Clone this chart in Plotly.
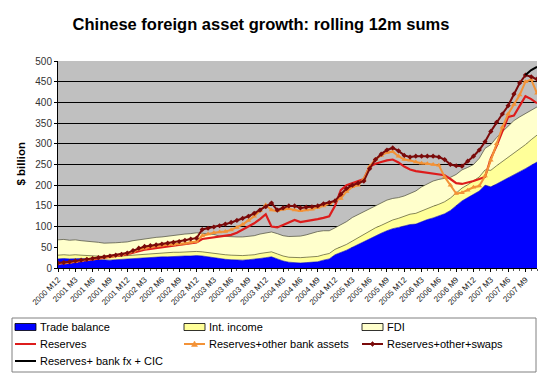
import plotly.graph_objects as go

# Monthly index 0 = 2000 M12 ... 83 = 2007 M11
tick_labels = ["2000 M12",
               "2001 M3", "2001 M6", "2001 M9", "2001 M12",
               "2002 M3", "2002 M6", "2002 M9", "2002 M12",
               "2003 M3", "2003 M6", "2003 M9", "2003 M12",
               "2004 M3", "2004 M6", "2004 M9", "2004 M12",
               "2005 M3", "2005 M6", "2005 M9", "2005 M12",
               "2006 M3", "2006 M6", "2006 M9", "2006 M12",
               "2007 M3", "2007 M6", "2007 M9"]

trade_balance = [22,
    23, 22, 23, 23, 22, 21, 20, 19, 19, 20, 21, 22,
    23, 24, 25, 25, 26, 27, 27, 28, 28, 29, 29, 30,
    29, 27, 25, 22, 21, 20, 19, 19, 20, 21, 23, 25,
    27, 22, 17, 14, 13, 12, 13, 14, 15, 19, 22, 32,
    37, 43, 50, 57, 64, 72, 78, 84, 90, 95, 98, 102,
    105, 106, 112, 117, 121, 126, 131, 139, 150, 162, 170, 178,
    186, 200, 196, 203, 210, 218, 226, 233, 240, 248, 256]

int_income = [9,
    9, 9, 9, 8, 8, 8, 8, 8, 8, 8, 8, 8,
    9, 9, 9, 9, 9, 9, 10, 10, 10, 10, 10, 10,
    10, 10, 11, 11, 11, 11, 11, 11, 11, 11, 12, 12,
    12, 12, 12, 12, 12, 13, 13, 13, 13, 13, 13, 13,
    14, 14, 15, 16, 17, 18, 19, 19, 20, 21, 22, 24,
    25, 26, 26, 27, 28, 28, 29, 30, 30, 31, 31, 32,
    34, 37, 40, 44, 47, 50, 53, 55, 58, 62, 65]

fdi = [37,
    37, 36, 36, 35, 35, 34, 34, 33, 33, 33, 33, 33,
    34, 35, 37, 38, 39, 39, 40, 41, 42, 43, 44, 45,
    45, 45, 45, 44, 44, 44, 45, 45, 45, 46, 47, 47,
    48, 49, 49, 50, 51, 52, 54, 57, 60, 58, 55, 52,
    53, 55, 57, 56, 54, 52, 52, 53, 54, 52, 50, 48,
    50, 54, 58, 60, 61, 60, 56, 50, 46, 44, 42, 40,
    45, 52, 62, 68, 72, 75, 77, 77, 75, 72, 68]

reserves = [11,
    12, 13, 15, 17, 19, 21, 23, 25, 27, 29, 31, 33,
    37, 41, 44, 46, 48, 50, 52, 54, 56, 58, 60, 62,
    70, 72, 74, 76, 78, 80, 85, 92, 100, 108, 118, 130,
    100, 98, 104, 110, 116, 111, 113, 116, 118, 121, 125, 150,
    188, 200, 205, 210, 215, 245, 252, 256, 260, 262, 255, 245,
    238, 234, 232, 230, 228, 226, 224, 215, 205, 203, 206, 210,
    215, 220, 265, 295, 330, 365, 368, 392, 415, 408, 398]

reserves_bank = [11,
    12, 14, 16, 18, 20, 22, 24, 26, 28, 30, 32, 35,
    40, 45, 48, 51, 53, 55, 56, 57, 58, 60, 62, 64,
    78, 82, 85, 87, 88, 92, 98, 105, 115, 125, 138, 152,
    140, 138, 142, 143, 140, 138, 140, 142, 146, 150, 155, 162,
    168, 185, 196, 200, 215, 245, 262, 272, 279, 281, 270, 262,
    260, 256, 253, 252, 250, 248, 220, 200, 180, 182, 188, 195,
    198, 222, 260, 300, 340, 372, 395, 418, 450, 455, 422]

reserves_swaps = [12,
    13, 15, 17, 19, 21, 23, 25, 27, 29, 31, 33, 36,
    42, 48, 52, 54, 56, 58, 60, 62, 64, 67, 70, 72,
    93, 96, 99, 102, 106, 110, 115, 120, 125, 132, 140, 148,
    157, 140, 145, 150, 150, 145, 147, 148, 150, 155, 158, 162,
    178, 192, 200, 205, 210, 240, 262, 275, 285, 290, 283, 272,
    268, 270, 270, 270, 270, 268, 262, 250, 247, 246, 258, 270,
    285, 305, 330, 352, 372, 392, 420, 447, 466, 462, 456]

reserves_cic = [None] * 81 + [466, 478, 486]

series_names = ["Trade balance", "Int. income", "FDI", "Reserves",
                "Reserves+other bank assets", "Reserves+other+swaps",
                "Reserves+ bank fx + CIC"]

x = list(range(len(trade_balance)))
tick_vals = [3 * k for k in range(len(tick_labels))]

FONT = "Liberation Sans, Arial, sans-serif"

# The page body adds an 8px offset; work in screenshot coordinates and shift.
OFF = 8
SW, SH = 547, 374                      # screenshot size
PL, PR, PT, PB = 58, 537, 61, 268      # plot edges in screenshot coords
W, H = SW - OFF, SH - OFF
ML, MT = PL - OFF, PT - OFF
MR, MB = W - (PR - OFF), H - (PB - OFF)
PW, PH = PR - PL, PB - PT


def xp(px):
    return (px - PL) / PW


def yp(py):
    return (PB - py) / PH


BLUE, YEL, CREAM = "#0000ff", "#ffff99", "#ffffcc"
RED, ORANGE, MAROON = "#dd1c1c", "#f39237", "#7a0a0a"

fig = go.Figure()
fig.add_trace(go.Scatter(x=x, y=trade_balance, name=series_names[0], stackgroup="s",
                         mode="lines", line=dict(color="#0000c8", width=0.6),
                         fillcolor=BLUE))
fig.add_trace(go.Scatter(x=x, y=int_income, name=series_names[1], stackgroup="s",
                         mode="lines", line=dict(color="#5a5a2a", width=0.7),
                         fillcolor=YEL))
fig.add_trace(go.Scatter(x=x, y=fdi, name=series_names[2], stackgroup="s",
                         mode="lines", line=dict(color="#4a4a3a", width=0.7),
                         fillcolor=CREAM))
fig.add_trace(go.Scatter(x=x, y=reserves, name=series_names[3], mode="lines",
                         line=dict(color=RED, width=2.2)))
fig.add_trace(go.Scatter(x=x, y=reserves_bank, name=series_names[4],
                         mode="lines+markers", line=dict(color=ORANGE, width=2),
                         marker=dict(symbol="triangle-up", size=5, color=ORANGE)))
fig.add_trace(go.Scatter(x=x, y=reserves_swaps, name=series_names[5],
                         mode="lines+markers", line=dict(color=MAROON, width=2),
                         marker=dict(symbol="diamond", size=4, color=MAROON)))
fig.add_trace(go.Scatter(x=x, y=reserves_cic, name=series_names[6],
                         mode="lines", line=dict(color="#000000", width=2)))

# ---- custom legend (box, swatches, labels) ----
shapes = [dict(type="rect", xref="paper", yref="paper",
               x0=xp(12), x1=xp(536), y0=yp(372), y1=yp(318),
               line=dict(color="#808080", width=1), fillcolor="white", layer="above")]
annotations = []
cols = [15, 184, 362]
rows = [327, 344, 361]
swatch = [("rect", BLUE), ("rect", YEL), ("rect", CREAM), ("line", RED),
          ("tri", ORANGE), ("dia", MAROON), ("line", "#000000")]
for k, name in enumerate(series_names):
    cx = cols[k % 3]
    cy = rows[k // 3]
    kind, col = swatch[k]
    if kind == "rect":
        shapes.append(dict(type="rect", xref="paper", yref="paper",
                           x0=xp(cx), x1=xp(cx + 21), y0=yp(cy + 3.5), y1=yp(cy - 3.5),
                           line=dict(color="#000", width=0.8), fillcolor=col,
                           layer="above"))
    else:
        shapes.append(dict(type="line", xref="paper", yref="paper",
                           x0=xp(cx), x1=xp(cx + 21), y0=yp(cy), y1=yp(cy),
                           line=dict(color=col, width=2), layer="above"))
        mx = cx + 10.5
        if kind == "tri":
            path = "M {} {} L {} {} L {} {} Z".format(
                xp(mx - 3), yp(cy + 2.5), xp(mx + 3), yp(cy + 2.5), xp(mx), yp(cy - 3))
            shapes.append(dict(type="path", xref="paper", yref="paper", path=path,
                               fillcolor=col, line=dict(color=col, width=0.5),
                               layer="above"))
        elif kind == "dia":
            path = "M {} {} L {} {} L {} {} L {} {} Z".format(
                xp(mx - 2.5), yp(cy), xp(mx), yp(cy - 2.5),
                xp(mx + 2.5), yp(cy), xp(mx), yp(cy + 2.5))
            shapes.append(dict(type="path", xref="paper", yref="paper", path=path,
                               fillcolor=col, line=dict(color=col, width=0.5),
                               layer="above"))
    annotations.append(dict(text=name, xref="paper", yref="paper",
                            x=xp(cx + 23), y=yp(cy), xanchor="left", yanchor="middle",
                            showarrow=False,
                            font=dict(size=11, family=FONT, color="#000")))

annotations.append(dict(text="<b>$ billion</b>", xref="paper", yref="paper",
                        x=xp(20), y=0.5, xanchor="center", yanchor="middle",
                        textangle=-90, showarrow=False,
                        font=dict(size=11.5, family=FONT, color="#000")))

fig.update_layout(
    width=W, height=H,
    margin=dict(l=ML, r=MR, t=MT, b=MB, pad=0, autoexpand=False),
    paper_bgcolor="white", plot_bgcolor="#c0c0c0",
    font=dict(family=FONT, color="#000"),
    title=dict(text="<b>Chinese foreign asset growth: rolling 12m sums</b>",
               x=(261 - OFF) / W, xanchor="center", xref="container",
               y=1 - (24 - OFF) / H, yanchor="middle", yref="container",
               font=dict(size=16.5, family=FONT, color="#000")),
    showlegend=False,
    shapes=shapes,
    annotations=annotations,
)

fig.update_xaxes(range=[0, len(trade_balance) - 1], tickmode="array",
                 tickvals=tick_vals, ticktext=tick_labels, tickangle=-45,
                 tickfont=dict(size=8, family=FONT, color="#222"),
                 showgrid=False, zeroline=False, showline=True, linecolor="#000",
                 linewidth=1, ticks="outside", ticklen=3, tickcolor="#000",
                 minor=dict(tickmode="linear", tick0=0, dtick=1, ticks="outside",
                            ticklen=2, tickcolor="#555", showgrid=False))
fig.update_yaxes(range=[0, 500], tickmode="linear", tick0=0, dtick=50,
                 tickfont=dict(size=10, family=FONT, color="#333"),
                 showgrid=True, gridcolor="#000", gridwidth=1, zeroline=False,
                 showline=True, linecolor="#000", linewidth=1,
                 ticks="outside", ticklen=3, tickcolor="#000")

fig.write_html("out.html")
